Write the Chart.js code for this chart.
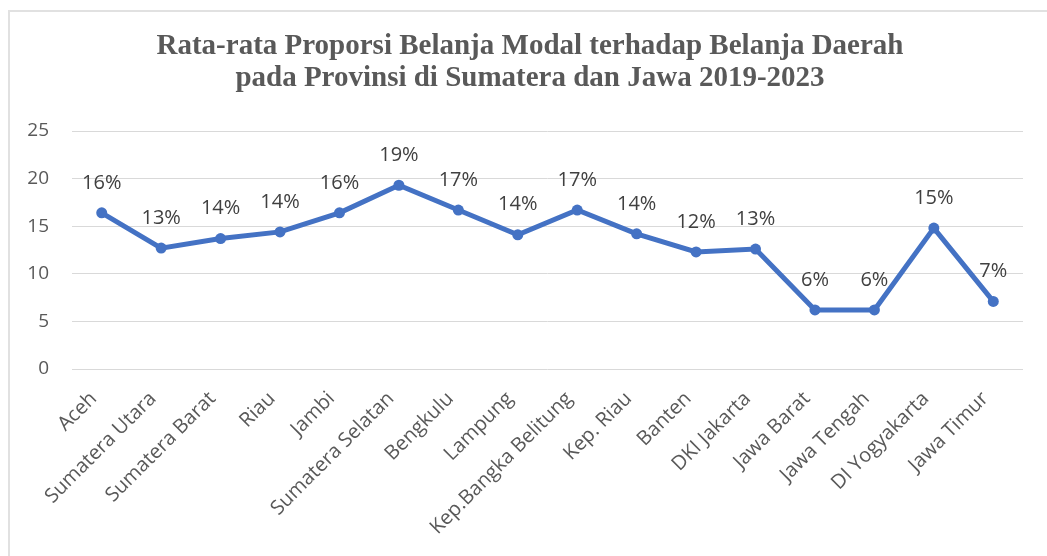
<!DOCTYPE html>
<html lang="id">
<head>
<meta charset="utf-8">
<title>Rata-rata Proporsi Belanja Modal</title>
<script src="https://cdn.jsdelivr.net/npm/chart.js@4.4.1/dist/chart.umd.min.js"></script>
<style>
    html, body { margin: 0; padding: 0; background: #ffffff; overflow: hidden; }
    #wrap { position: relative; width: 1047px; height: 556px; overflow: hidden; }
    #chart { position: absolute; left: 0; top: 0; }
    /* 元画像の薄いグレーの枠 (左と上だけ見えている) */
    #frame {
        position: absolute; left: 8px; top: 10px; width: 1060px; height: 560px;
        border-left: 2px solid #e1e1e1; border-top: 2px solid #e1e1e1;
        pointer-events: none;
    }
</style>
</head>
<body>
<div id="wrap">
    <!-- キャンバスは少し広め: タイトルの中心を元画像に合わせるため (右端ははみ出して隠れる) -->
    <canvas id="chart" width="1060" height="556"></canvas>
    <div id="frame"></div>
</div>
<script>
// --- データ ---
const provinces = [
    'Aceh', 'Sumatera Utara', 'Sumatera Barat', 'Riau', 'Jambi', 'Sumatera Selatan',
    'Bengkulu', 'Lampung', 'Kep.Bangka Belitung', 'Kep. Riau', 'Banten', 'DKI Jakarta',
    'Jawa Barat', 'Jawa Tengah', 'DI Yogyakarta', 'Jawa Timur'
];
const proporsi = [16.4, 12.7, 13.7, 14.4, 16.4, 19.3, 16.7, 14.1, 16.7, 14.2, 12.3, 12.6, 6.2, 6.2, 14.8, 7.1];
const yTicks = [0, 5, 10, 15, 20, 25];
const titleLines = [
    'Rata-rata Proporsi Belanja Modal terhadap Belanja Daerah',
    'pada Provinsi di Sumatera dan Jawa 2019-2023'
];

const textColor = '#595959';
const labelColor = '#404040';
const lineColor = '#4472C4';

// 点の上にパーセント表示 (datalabels プラグインの代わり)
const pointLabelPlugin = {
    id: 'pointLabels',
    afterDatasetsDraw(chart) {
        const ctx = chart.ctx;
        const meta = chart.getDatasetMeta(0);
        ctx.save();
        ctx.font = '20px "Open Sans", sans-serif';
        ctx.fillStyle = labelColor;
        ctx.textAlign = 'center';
        ctx.textBaseline = 'middle';
        meta.data.forEach((pt, i) => {
            ctx.fillText(Math.round(proporsi[i]) + '%', pt.x, pt.y - 30);
        });
        ctx.restore();
    }
};

const ctx = document.getElementById('chart').getContext('2d');
new Chart(ctx, {
    type: 'line',
    data: {
        labels: provinces,
        datasets: [{
            data: proporsi,
            borderColor: lineColor,
            backgroundColor: lineColor,
            borderWidth: 5,
            pointRadius: 5.5,
            pointHoverRadius: 5.5,
            pointBorderWidth: 0,
            tension: 0,
            fill: false
        }]
    },
    options: {
        responsive: false,
        animation: false,
        layout: { padding: 0 },
        scales: {
            x: {
                offset: true,
                grid: { display: false },
                border: { display: false },
                ticks: {
                    color: textColor,
                    font: { family: '"Open Sans", sans-serif', size: 20 },
                    minRotation: 45,
                    maxRotation: 45,
                    autoSkip: false,
                    padding: 10,
                    labelOffset: -8
                },
                afterFit: (scale) => { scale.height = 187; }
            },
            y: {
                min: 0,
                max: 25,
                afterBuildTicks: (scale) => { scale.ticks = yTicks.map(v => ({ value: v })); },
                grid: { color: '#d9d9d9', lineWidth: 1, drawTicks: false },
                border: { display: false },
                ticks: {
                    color: textColor,
                    font: { family: '"Open Sans", sans-serif', size: 19 },
                    padding: 23
                },
                afterFit: (scale) => { scale.width = 72; }
            },
            // 右側の空白用 (何も描かない)
            yRight: {
                position: 'right',
                display: true,
                min: 0,
                max: 25,
                grid: { display: false },
                border: { display: false },
                ticks: { display: false },
                afterFit: (scale) => { scale.width = 37; }
            }
        },
        plugins: {
            legend: { display: false },
            tooltip: { enabled: false },
            title: {
                display: true,
                text: titleLines,
                color: textColor,
                font: { family: '"Liberation Serif", "Times New Roman", serif', size: 29, weight: 'bold', lineHeight: 32 / 29 },
                padding: { top: 31, bottom: 36 }
            }
        }
    },
    plugins: [pointLabelPlugin]
});
</script>
</body>
</html>
